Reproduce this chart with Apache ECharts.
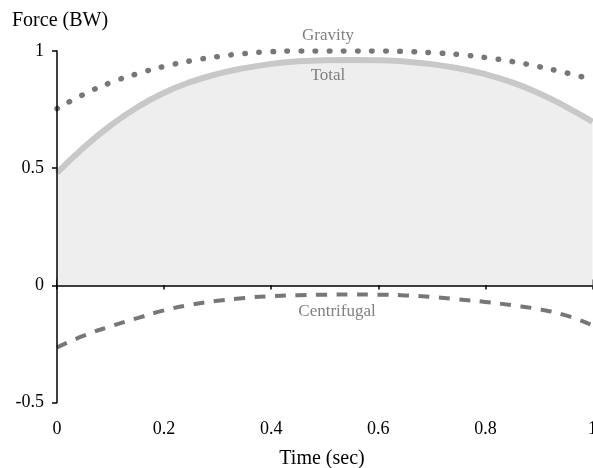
<!DOCTYPE html>
<html>
<head>
<meta charset="utf-8">
<script src="https://cdn.jsdelivr.net/npm/echarts@6/dist/echarts.min.js"></script>
<style>
  html, body { margin: 0; padding: 0; background: #fff; }
  #main { width: 593px; height: 468px; }
</style>
</head>
<body>
<div id="main"></div>
<script>
// time (sec)
var times = [0, 0.05, 0.1, 0.15, 0.2, 0.25, 0.3, 0.35, 0.4, 0.45, 0.5,
             0.55, 0.6, 0.65, 0.7, 0.75, 0.8, 0.85, 0.9, 0.95, 1];
// force (BW)
var gravity = [0.754, 0.815, 0.865, 0.903, 0.934, 0.958, 0.976, 0.989, 0.997, 1.0, 1.0,
               1.0, 1.0, 0.998, 0.993, 0.985, 0.972, 0.955, 0.933, 0.907, 0.878];
var total = [0.48, 0.588, 0.682, 0.76, 0.822, 0.868, 0.902, 0.927, 0.945, 0.956, 0.961,
             0.962, 0.961, 0.955, 0.944, 0.926, 0.901, 0.866, 0.82, 0.763, 0.698];
var centrifugal = [-0.265, -0.215, -0.175, -0.14, -0.107, -0.083, -0.066, -0.054, -0.046, -0.042, -0.04,
                   -0.039, -0.04, -0.043, -0.05, -0.06, -0.071, -0.085, -0.102, -0.128, -0.17];

var serif = 'Liberation Serif';
var grey = '#777777';

function pairs(ys) {
  var out = [];
  for (var i = 0; i < times.length; i++) out.push([times[i], ys[i]]);
  return out;
}

var myChart = echarts.init(document.getElementById('main'));

var option = {
  animation: false,
  grid: [
    { left: 57, right: 0.5, top: 51, bottom: 65.5, containLabel: false, outerBoundsMode: 'none' },
    // thin strip around y = 0, its split lines are the crossing ticks
    { left: 57, right: 0.5, top: 279.5, height: 10, containLabel: false, outerBoundsMode: 'none' }
  ],
  xAxis: [{
    type: 'value', gridIndex: 0, min: 0, max: 1, interval: 0.2,
    axisLine: { show: false, onZero: false },
    axisTick: { show: false },
    axisLabel: { margin: 18, color: '#000', fontFamily: serif, fontSize: 18 },
    splitLine: { show: false }
  }, {
    type: 'value', gridIndex: 1, min: 0, max: 1, interval: 0.2,
    axisLine: { show: false },
    axisTick: { show: false },
    axisLabel: { show: false },
    splitLine: { show: true, lineStyle: { color: '#000', width: 1.5 } }
  }],
  yAxis: [{
    type: 'value', gridIndex: 0, min: -0.5, max: 1, interval: 0.5, z: 5,
    axisLine: { show: true, onZero: false, lineStyle: { color: '#000', width: 1.5 } },
    axisTick: { show: true, length: 5, lineStyle: { color: '#000', width: 1.5 } },
    axisLabel: { margin: 13, color: '#000', fontFamily: serif, fontSize: 18 },
    splitLine: { show: false }
  }, {
    type: 'value', gridIndex: 1, min: 0, max: 1, show: false
  }],
  series: [{
    name: 'Total', type: 'line', smooth: true, symbol: 'none', z: 1,
    data: pairs(total),
    lineStyle: { color: '#c8c8c8', width: 6 },
    areaStyle: { color: '#eeeeee', opacity: 1 }
  }, {
    name: 'Gravity', type: 'line', smooth: true, symbol: 'none', z: 3,
    data: pairs(gravity),
    lineStyle: { color: grey, width: 5.5, type: [0.5, 13.6], cap: 'round' }
  }, {
    name: 'Centrifugal', type: 'line', smooth: true, symbol: 'none', z: 3,
    data: pairs(centrifugal),
    lineStyle: { color: grey, width: 4, type: [11, 9.5] },
    markLine: {
      silent: true, symbol: 'none', label: { show: false },
      lineStyle: { color: '#000', width: 1.5, type: 'solid' },
      data: [{ yAxis: 0 }]
    }
  }],
  graphic: [
    { type: 'text', left: 12, top: 11, style: { text: 'Force (BW)', fill: '#000', font: '20px "' + serif + '"' } },
    { type: 'text', x: 322, y: 459, style: { text: 'Time (sec)', fill: '#000', font: '20px "' + serif + '"', align: 'center', verticalAlign: 'middle' } },
    { type: 'text', x: 328, y: 36, z: 10, style: { text: 'Gravity', fill: '#808080', font: '17px "' + serif + '"', align: 'center', verticalAlign: 'middle' } },
    { type: 'text', x: 328, y: 76, z: 10, style: { text: 'Total', fill: '#808080', font: '17px "' + serif + '"', align: 'center', verticalAlign: 'middle' } },
    { type: 'text', x: 337, y: 312, z: 10, style: { text: 'Centrifugal', fill: '#808080', font: '17px "' + serif + '"', align: 'center', verticalAlign: 'middle' } }
  ]
};

myChart.setOption(option);
</script>
</body>
</html>
